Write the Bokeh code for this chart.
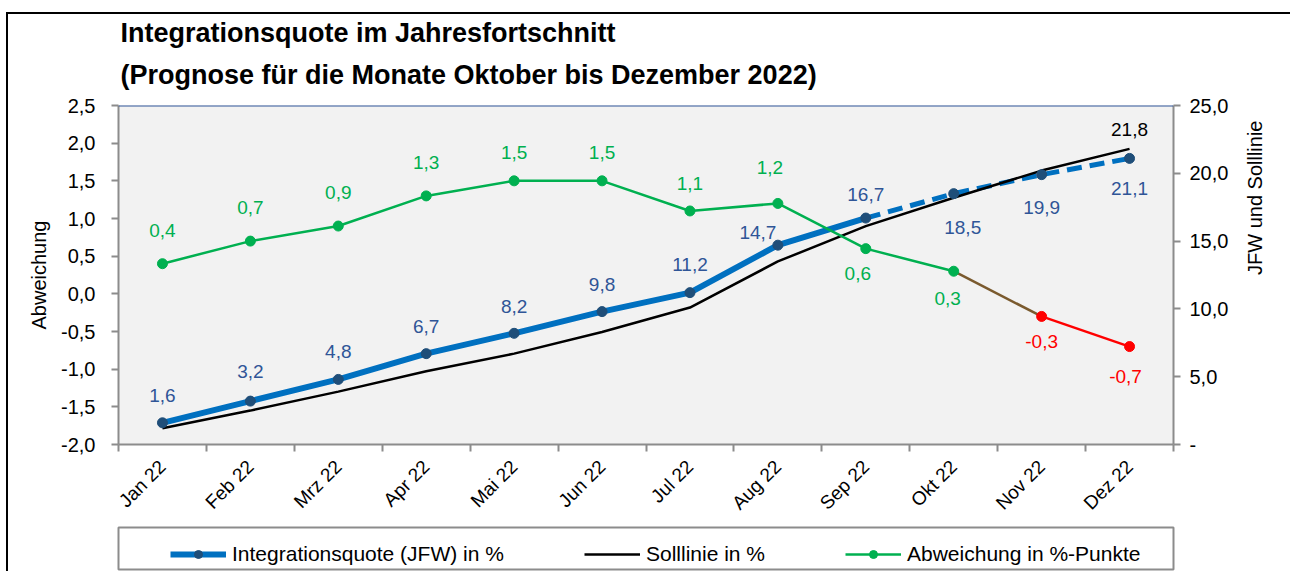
import math
from bokeh.plotting import figure
from bokeh.layouts import column
from bokeh.models import (Range1d, LinearAxis, FixedTicker, Span, ColumnDataSource,
                          Legend, LegendItem, Title)
from bokeh.core.properties import value
from bokeh.embed import file_html
from bokeh.resources import INLINE

# ---------------- data ----------------
months = ["Jan 22", "Feb 22", "Mrz 22", "Apr 22", "Mai 22", "Jun 22",
          "Jul 22", "Aug 22", "Sep 22", "Okt 22", "Nov 22", "Dez 22"]
jfw = [1.6, 3.2, 4.8, 6.7, 8.2, 9.8, 11.2, 14.7, 16.7, 18.5, 19.9, 21.1]
soll = [1.2, 2.5, 3.9, 5.4, 6.7, 8.3, 10.1, 13.5, 16.1, 18.2, 20.2, 21.8]
abw = [0.4, 0.7, 0.9, 1.3, 1.5, 1.5, 1.1, 1.2, 0.6, 0.3, -0.3, -0.7]
left_ticks = [-2.0, -1.5, -1.0, -0.5, 0.0, 0.5, 1.0, 1.5, 2.0, 2.5]
right_ticks = [0, 5, 10, 15, 20, 25]
n_actual = 9  # Jan..Sep actual, Okt..Dez forecast
title_1 = "Integrationsquote im Jahresfortschnitt"
title_2 = "(Prognose für die Monate Oktober bis Dezember 2022)"

# ---------------- styling (label offsets in screen pixels, negative = up) ----------------
blue_dx = [0, 0, 0, 0, 0, 0, 0, -20, 0, 9, 0, 0]
blue_dy = [-27, -30, -28, -27, -27, -27, -28, -13, -24, 34, 33, 30]
green_dx = [0, 0, 0, 0, 0, 0, 0, -8, -8, -6, 0, -4]
green_dy = [-33, -34, -34, -33, -28, -28, -27, -36, 25, 27, 25, 30]

FONT = "Liberation Sans"
BLUE = "#0070C0"
NAVY = "#1F4E79"
LBLUE = "#2F5597"
GREEN = "#00B050"
RED = "#FF0000"
BROWN = "#7A5A2E"
GRAY = "#8C8C8C"

def fmt(v):
    return f"{v:.1f}".replace(".", ",")

xs = [i + 0.5 for i in range(len(months))]

p = figure(width=1290, height=509, x_range=Range1d(0, 12), y_range=Range1d(-2, 2.5),
           output_backend="svg", toolbar_location=None, title=None,
           min_border_left=110, min_border_right=116, min_border_top=91, min_border_bottom=77,
           background_fill_color="#F2F2F2", border_fill_color="white", outline_line_color=None)
p.styles = {"border-top": "2px solid black", "border-left": "2px solid black"}
p.margin = (12, 0, 0, 6)

p.extra_y_ranges = {"r": Range1d(0, 25)}
p.xgrid.visible = False
p.ygrid.visible = False

# two-line title (first added sits nearest to the plot)
for txt, so in ((title_2, 31), (title_1, -10)):
    p.add_layout(Title(text=txt, text_font=FONT, text_font_size="27px", text_font_style="bold",
                       text_color="black", align="left", offset=2, standoff=so), "above")

def style_axis(ax):
    ax.axis_line_color = GRAY
    ax.axis_line_width = 2
    ax.major_tick_line_color = GRAY
    ax.major_tick_line_width = 2
    ax.minor_tick_line_color = GRAY
    ax.minor_tick_line_width = 2
    ax.major_tick_in = 0
    ax.major_tick_out = 7
    ax.minor_tick_in = 0
    ax.minor_tick_out = 0
    ax.major_label_text_font = FONT
    ax.major_label_text_font_size = "20px"
    ax.major_label_text_color = "black"
    ax.axis_label_text_font = FONT
    ax.axis_label_text_font_size = "20px"
    ax.axis_label_text_font_style = "normal"
    ax.axis_label_text_color = "black"

# left axis
ly = p.yaxis[0]
style_axis(ly)
ly.ticker = FixedTicker(ticks=left_ticks)
ly.major_label_overrides = {t: fmt(t) for t in left_ticks}
ly.major_label_standoff = 16
ly.axis_label = "Abweichung"
ly.axis_label_standoff = 8

# right axis
ry = LinearAxis(y_range_name="r", ticker=FixedTicker(ticks=right_ticks))
style_axis(ry)
ry.major_label_overrides = {t: ("-" if t == 0 else fmt(t)) for t in right_ticks}
ry.major_label_standoff = 9
ry.axis_label = "JFW und Solllinie"
ry.axis_label_standoff = 24
ry.axis_label_orientation = math.pi / 2
p.add_layout(ry, "right")

# x axis
bx = p.xaxis[0]
style_axis(bx)
bx.ticker = FixedTicker(ticks=xs, minor_ticks=list(range(len(months) + 1)))
bx.major_label_overrides = {x: m for x, m in zip(xs, months)}
bx.major_label_text_font_size = "19px"
bx.major_tick_out = 0
bx.minor_tick_out = 7
bx.major_label_orientation = math.pi / 4
bx.major_label_standoff = 12

# top border of plot area
p.add_layout(Span(location=2.5, dimension="width", line_color="#2F5597", line_width=2))

# ---------------- series ----------------
p.line(xs[:n_actual], jfw[:n_actual], y_range_name="r", line_color=BLUE, line_width=6)
p.line(xs[n_actual - 1:], jfw[n_actual - 1:], y_range_name="r", line_color=BLUE,
       line_width=5, line_dash="15 8")
p.line(xs, soll, y_range_name="r", line_color="black", line_width=2.5)
p.scatter(xs, jfw, y_range_name="r", size=10, fill_color=NAVY, line_color=NAVY)

p.line(xs[:10], abw[:10], line_color=GREEN, line_width=2.5)
p.line(xs[9:11], abw[9:11], line_color=BROWN, line_width=2.5)
p.line(xs[10:], abw[10:], line_color=RED, line_width=2.5)
p.scatter(xs[:10], abw[:10], size=10, fill_color=GREEN, line_color=GREEN)
p.scatter(xs[10:], abw[10:], size=10, fill_color=RED, line_color=RED)

# ---------------- data labels ----------------
bsrc = ColumnDataSource(dict(x=xs, y=jfw, t=[fmt(v) for v in jfw], dx=blue_dx, dy=blue_dy))
p.text(x="x", y="y", text="t", x_offset="dx", y_offset="dy", source=bsrc, y_range_name="r",
       text_align="center", text_baseline="middle", text_color=LBLUE,
       text_font=value(FONT), text_font_size="19px")

ssrc = ColumnDataSource(dict(x=xs[-1:], y=soll[-1:], t=[fmt(soll[-1])]))
p.text(x="x", y="y", text="t", source=ssrc, y_range_name="r", y_offset=-19,
       text_align="center", text_baseline="middle", text_color="black",
       text_font=value(FONT), text_font_size="19px")

gcol = [GREEN if v >= 0 else RED for v in abw]
gsrc = ColumnDataSource(dict(x=xs, y=abw, t=[fmt(v) for v in abw], dx=green_dx, dy=green_dy, c=gcol))
p.text(x="x", y="y", text="t", x_offset="dx", y_offset="dy", source=gsrc,
       text_align="center", text_baseline="middle", text_color="c",
       text_font=value(FONT), text_font_size="19px")

# ---------------- legend (own strip below the chart) ----------------
# the strip's ranges exclude the series values, so its renderers only feed the legend swatches
lf = figure(width=1290, height=50, x_range=Range1d(0, 1), y_range=Range1d(-100, -99),
            output_backend="svg", toolbar_location=None,
            x_axis_location=None, y_axis_location=None,
            min_border_left=85, min_border_right=125, min_border_top=6, min_border_bottom=2,
            background_fill_color="white", border_fill_color="white",
            outline_line_color=GRAY, outline_line_width=2)
lf.styles = {"border-left": "2px solid black"}
lf.margin = (0, 0, 0, 6)
lf.xgrid.visible = False
lf.ygrid.visible = False

lb1 = lf.line(xs, jfw, line_color=BLUE, line_width=6)
lb2 = lf.scatter(xs, jfw, size=10, fill_color=NAVY, line_color=NAVY)
lk = lf.line(xs, soll, line_color="black", line_width=2.5)
lg1 = lf.line(xs, abw, line_color=GREEN, line_width=2.5)
lg2 = lf.scatter(xs, abw, size=10, fill_color=GREEN, line_color=GREEN)

legend = Legend(items=[
    LegendItem(label="Integrationsquote (JFW) in %", renderers=[lb1, lb2]),
    LegendItem(label="Solllinie in %", renderers=[lk]),
    LegendItem(label="Abweichung in %-Punkte", renderers=[lg1, lg2]),
], orientation="horizontal", location=(52, 3),
    label_text_font=FONT, label_text_font_size="21px", label_text_color="black",
    glyph_width=56, glyph_height=20, label_height=20, spacing=80, padding=8,
    label_standoff=6, border_line_color=None, background_fill_alpha=0, margin=0)
lf.add_layout(legend, "center")

layout = column(p, lf)
open("out.html", "w").write(file_html(layout, INLINE))
